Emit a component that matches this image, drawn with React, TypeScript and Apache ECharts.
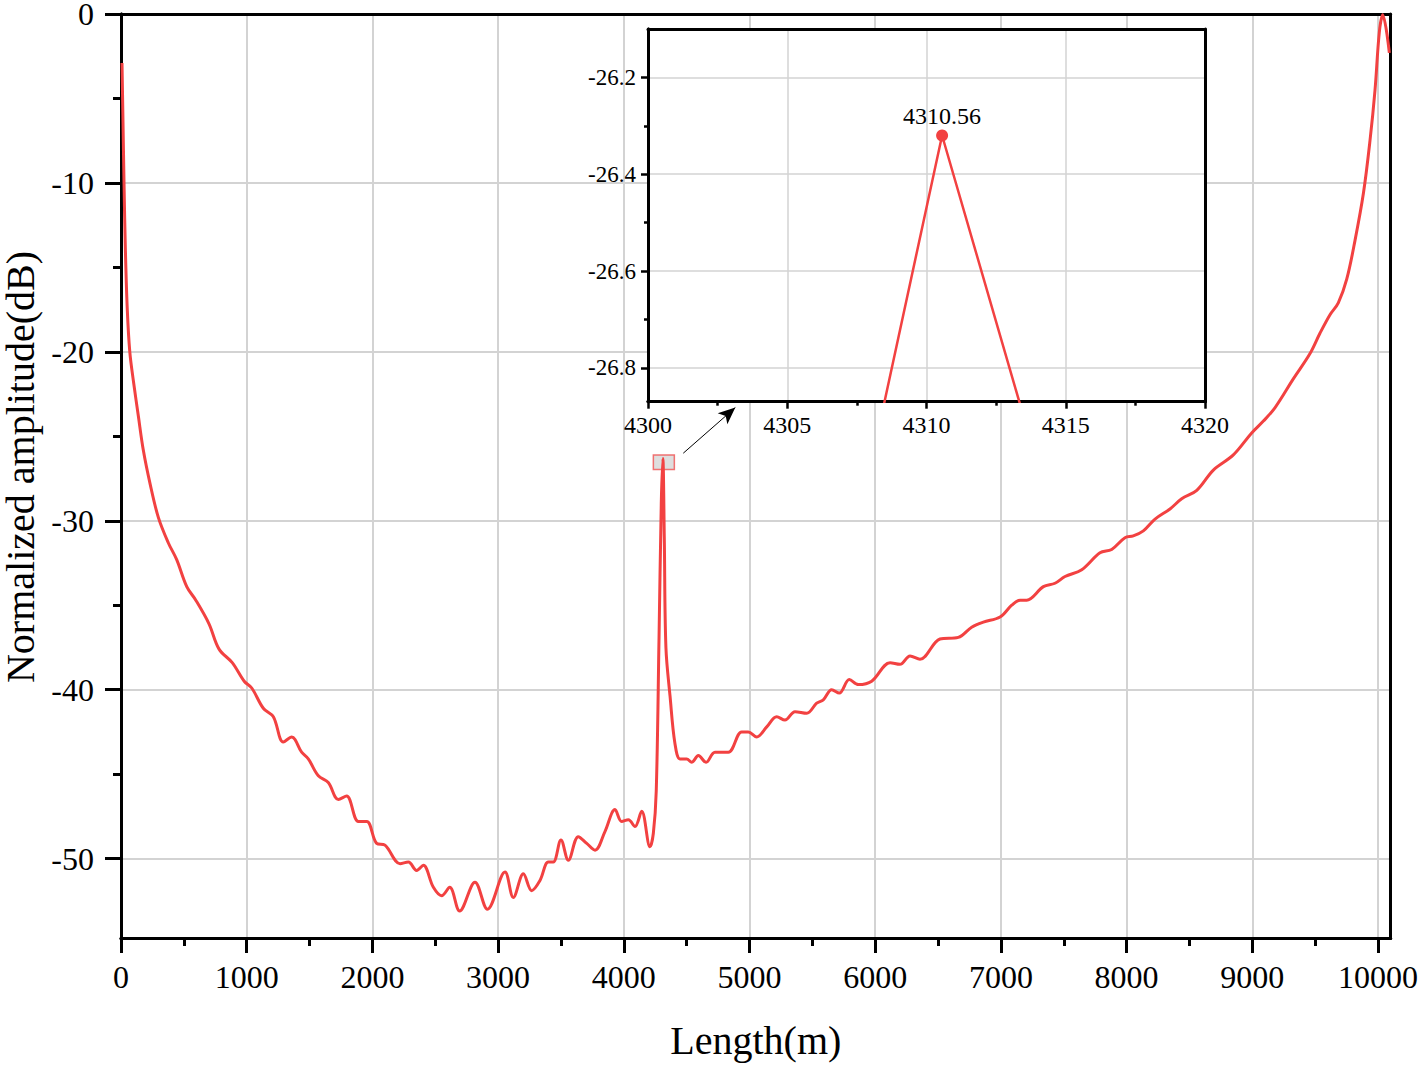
import React, { useEffect, useRef } from "react";
import * as echarts from "echarts";

// ---- main trace (Length in m, normalized amplitude in dB) ----
const lengthM = [
  8, 15, 24, 35, 50, 70, 100, 138, 177, 231, 297, 376, 443, 523, 595, 700, 780, 885, 980, 1040,
  1132, 1212, 1291, 1358, 1437, 1490, 1570, 1649, 1729, 1795, 1888, 1955, 2034, 2100, 2220, 2286,
  2352, 2405, 2485, 2551, 2615, 2694, 2816, 2915, 3055, 3121, 3201, 3267, 3333, 3399, 3439, 3500,
  3559, 3638, 3705, 3771, 3850, 3930, 3983, 4036, 4089, 4142, 4208, 4235, 4258, 4280, 4298, 4310.56,
  4322, 4335, 4368, 4407, 4447, 4500, 4540, 4593, 4654, 4725, 4831, 4937, 4990, 5057, 5137, 5216,
  5282, 5362, 5455, 5534, 5587, 5654, 5714, 5794, 5866, 5972, 6118, 6197, 6277, 6356, 6515, 6661,
  6767, 6860, 6993, 7086, 7152, 7205, 7338, 7430, 7510, 7643, 7788, 7881, 7987, 8053, 8133, 8226,
  8345, 8438, 8558, 8690, 8849, 8995, 9088, 9181, 9326, 9459, 9538, 9618, 9684, 9751, 9817, 9884,
  9936, 9976, 10010, 10037, 10090,
];
const amplitudeDb = [
  -2.9, -6, -10, -14, -17.5, -20, -21.8, -23.8, -25.8, -27.8, -29.8, -31.3, -32.3, -33.9, -34.7, -36.1, -37.6, -38.4, -39.5, -39.9,
  -41.1, -41.6, -43.1, -42.8, -43.7, -44.1, -45.1, -45.5, -46.5, -46.3, -47.8, -47.8, -49.1, -49.2, -50.3, -50.2,
  -50.7, -50.4, -51.7, -52.2, -51.7, -53.1, -51.4, -53.0, -50.8, -52.3, -50.9, -51.9, -51.3, -50.2, -50.2, -48.9,
  -50.1, -48.7, -49.1, -49.5, -48.4, -47.1, -47.8, -47.7, -48.1, -47.2, -49.3, -48.5, -46, -37, -29, -26.32,
  -31, -37.5, -40.4, -43.2, -44.1, -44.1, -44.3, -43.9, -44.3, -43.7, -43.7, -42.5, -42.5, -42.8, -42.2, -41.6,
  -41.8, -41.3, -41.4, -40.8, -40.6, -40.0, -40.2, -39.4, -39.7, -39.5, -38.4, -38.5, -38.0, -38.2, -37.0, -36.9,
  -36.3, -36.0, -35.7, -35.0, -34.7, -34.7, -33.9, -33.7, -33.3, -32.9, -31.9, -31.7, -31.0, -30.9, -30.6, -29.9,
  -29.3, -28.7, -28.2, -27.0, -26.1, -24.8, -24.1, -23.3, -21.6, -20.1, -18.9, -17.8, -17.1, -15.7, -13.4, -10.6,
  -7.5, -4.5, -1.1, -0.05, -2.3,
];

// ---- zoomed inset around the reflection peak ----
const zoomLength = [4306.5, 4310.56, 4315.5];
const zoomAmplitude = [-27.4, -26.32, -27.3];
const peakIndex = 1;
const peakLabel = "4310.56";

// ---- ticks ----
const xTicks = [0, 1000, 2000, 3000, 4000, 5000, 6000, 7000, 8000, 9000, 10000];
const xMinorTicks = [500, 1500, 2500, 3500, 4500, 5500, 6500, 7500, 8500, 9500];
const yTicks = [-50, -40, -30, -20, -10, 0];
const yMinorTicks = [-45, -35, -25, -15, -5];
const insetYTicks = [-26.8, -26.6, -26.4, -26.2];
const insetYMinorTicks = [-26.7, -26.5, -26.3];

// ---- annotations (data coordinates) ----
const zoomBoxCorners = [
  [4235, -26.1],
  [4402, -26.96],
];
const arrowEnds = [
  [4473, -26.0],
  [4887, -23.3],
];

const FONT = "'Liberation Serif','Times New Roman',serif";
const RED = "#f24141";
const GRIDC = "#d3d3d3";
const plain = (v: number) => String(v);

export default function App() {
  const ref = useRef<HTMLDivElement | null>(null);

  useEffect(() => {
    if (!ref.current) return;
    const chart = echarts.init(ref.current, undefined, { renderer: "svg" });

    const blackLine = { show: true, onZero: false, lineStyle: { color: "#000", width: 3 } };

    const option: any = {
      animation: false,
      backgroundColor: "#fff",
      textStyle: { fontFamily: FONT },
      grid: [
        { left: 121, top: 14, right: 30.4, bottom: 128, outerBoundsMode: "none", containLabel: false },
        {
          left: 648, top: 29, right: 216, bottom: 664.3, show: true, backgroundColor: "#fff",
          borderWidth: 0, z: 5, outerBoundsMode: "none", containLabel: false,
        },
      ],
      xAxis: [
        {
          type: "value", gridIndex: 0, min: 0, max: 10100, interval: 1000, position: "bottom", z: 1,
          axisLine: blackLine,
          axisTick: { show: true, inside: false, length: 15, customValues: xTicks, lineStyle: { color: "#000", width: 3 } },
          axisLabel: { customValues: xTicks, formatter: plain, color: "#000", fontSize: 32, fontFamily: FONT, margin: 23 },
          splitLine: { show: true, lineStyle: { color: GRIDC, width: 2 } },
          name: "Length(m)", nameLocation: "middle", nameGap: 82,
          nameTextStyle: { color: "#000", fontSize: 40, fontFamily: FONT },
        },
        {
          type: "value", gridIndex: 0, min: 0, max: 10100, position: "bottom", z: 3,
          axisLine: blackLine,
          axisTick: { show: true, inside: false, length: 8, customValues: xMinorTicks, lineStyle: { color: "#000", width: 3 } },
          axisLabel: { show: false }, splitLine: { show: false },
        },
        {
          type: "value", gridIndex: 0, min: 0, max: 10100, position: "top", z: 3,
          axisLine: blackLine, axisTick: { show: false }, axisLabel: { show: false }, splitLine: { show: false },
        },
        {
          type: "value", gridIndex: 1, min: 4300, max: 4320, interval: 5, position: "bottom", z: 6,
          axisLine: blackLine,
          axisTick: { show: true, inside: false, length: 7, lineStyle: { color: "#000", width: 2.5 } },
          minorTick: { show: true, splitNumber: 2, length: 4, lineStyle: { color: "#000", width: 2.5 } },
          axisLabel: { formatter: plain, color: "#000", fontSize: 24, fontFamily: FONT, margin: 11 },
          splitLine: { show: true, lineStyle: { color: GRIDC, width: 1.5 } },
        },
        {
          type: "value", gridIndex: 1, min: 4300, max: 4320, position: "bottom", z: 7,
          axisLine: blackLine, axisTick: { show: false }, axisLabel: { show: false }, splitLine: { show: false },
        },
        {
          type: "value", gridIndex: 1, min: 4300, max: 4320, position: "top", z: 7,
          axisLine: blackLine, axisTick: { show: false }, axisLabel: { show: false }, splitLine: { show: false },
        },
      ],
      yAxis: [
        {
          type: "value", gridIndex: 0, min: -54.7, max: 0, splitNumber: 5, position: "left", z: 1,
          axisLine: blackLine,
          axisTick: { show: true, inside: false, length: 16, customValues: yTicks, lineStyle: { color: "#000", width: 3 } },
          axisLabel: { customValues: yTicks, formatter: plain, color: "#000", fontSize: 32, fontFamily: FONT, margin: 27 },
          splitLine: { show: true, lineStyle: { color: GRIDC, width: 2 } },
          name: "Normalized amplitude(dB)", nameLocation: "middle", nameGap: 80,
          nameTextStyle: { color: "#000", fontSize: 40, fontFamily: FONT, padding: [0, 0, 0, 18] },
        },
        {
          type: "value", gridIndex: 0, min: -54.7, max: 0, position: "left", z: 3,
          axisLine: blackLine,
          axisTick: { show: true, inside: false, length: 8, customValues: yMinorTicks, lineStyle: { color: "#000", width: 3 } },
          axisLabel: { show: false }, splitLine: { show: false },
        },
        {
          type: "value", gridIndex: 0, min: -54.7, max: 0, position: "right", z: 3,
          axisLine: blackLine, axisTick: { show: false }, axisLabel: { show: false }, splitLine: { show: false },
        },
        {
          type: "value", gridIndex: 1, min: -26.87, max: -26.1, splitNumber: 4, position: "left", z: 6,
          axisLine: blackLine,
          axisTick: { show: true, inside: false, length: 7, customValues: insetYTicks, lineStyle: { color: "#000", width: 2.5 } },
          axisLabel: { customValues: insetYTicks, formatter: plain, color: "#000", fontSize: 23, fontFamily: FONT, margin: 12 },
          splitLine: { show: true, lineStyle: { color: GRIDC, width: 1.5 } },
        },
        {
          type: "value", gridIndex: 1, min: -26.87, max: -26.1, position: "left", z: 7,
          axisLine: blackLine,
          axisTick: { show: true, inside: false, length: 4, customValues: insetYMinorTicks, lineStyle: { color: "#000", width: 2.5 } },
          axisLabel: { show: false }, splitLine: { show: false },
        },
        {
          type: "value", gridIndex: 1, min: -26.87, max: -26.1, position: "right", z: 7,
          axisLine: blackLine, axisTick: { show: false }, axisLabel: { show: false }, splitLine: { show: false },
        },
      ],
      series: [
        {
          type: "line", xAxisIndex: 0, yAxisIndex: 0, z: 4,
          data: lengthM.map((x, i) => [x, amplitudeDb[i]]),
          smooth: 0.35, symbol: "none", showSymbol: false,
          lineStyle: { color: RED, width: 3 },
          markArea: {
            silent: true,
            label: { show: false },
            itemStyle: { color: "rgba(200,200,200,0.6)", borderColor: "rgba(240,90,90,0.85)", borderWidth: 1.5 },
            data: [[{ coord: zoomBoxCorners[0] }, { coord: zoomBoxCorners[1] }]],
          },
          markLine: {
            silent: true,
            symbol: ["none", "arrow"],
            symbolSize: [11, 17],
            label: { show: false },
            lineStyle: { color: "#000", width: 1, type: "solid" },
            data: [[{ coord: arrowEnds[0] }, { coord: arrowEnds[1] }]],
          },
        },
        {
          type: "line", xAxisIndex: 3, yAxisIndex: 3, z: 8, clip: true,
          data: zoomLength.map((x, i) => ({
            value: [x, zoomAmplitude[i]],
            symbol: i === peakIndex ? "circle" : "none",
            symbolSize: 12,
            label: {
              show: i === peakIndex,
              position: "top",
              distance: 1,
              formatter: () => peakLabel,
              color: "#000",
              fontSize: 24,
              fontFamily: FONT,
            },
          })),
          showSymbol: true, showAllSymbol: true, smooth: false,
          lineStyle: { color: RED, width: 2.5 },
          itemStyle: { color: RED },
        },
      ],
    };

    chart.setOption(option);
    return () => chart.dispose();
  }, []);

  return (
    <div
      ref={ref}
      style={{ position: "absolute", left: 0, top: 0, width: 1421, height: 1066, background: "#fff" }}
    />
  );
}
